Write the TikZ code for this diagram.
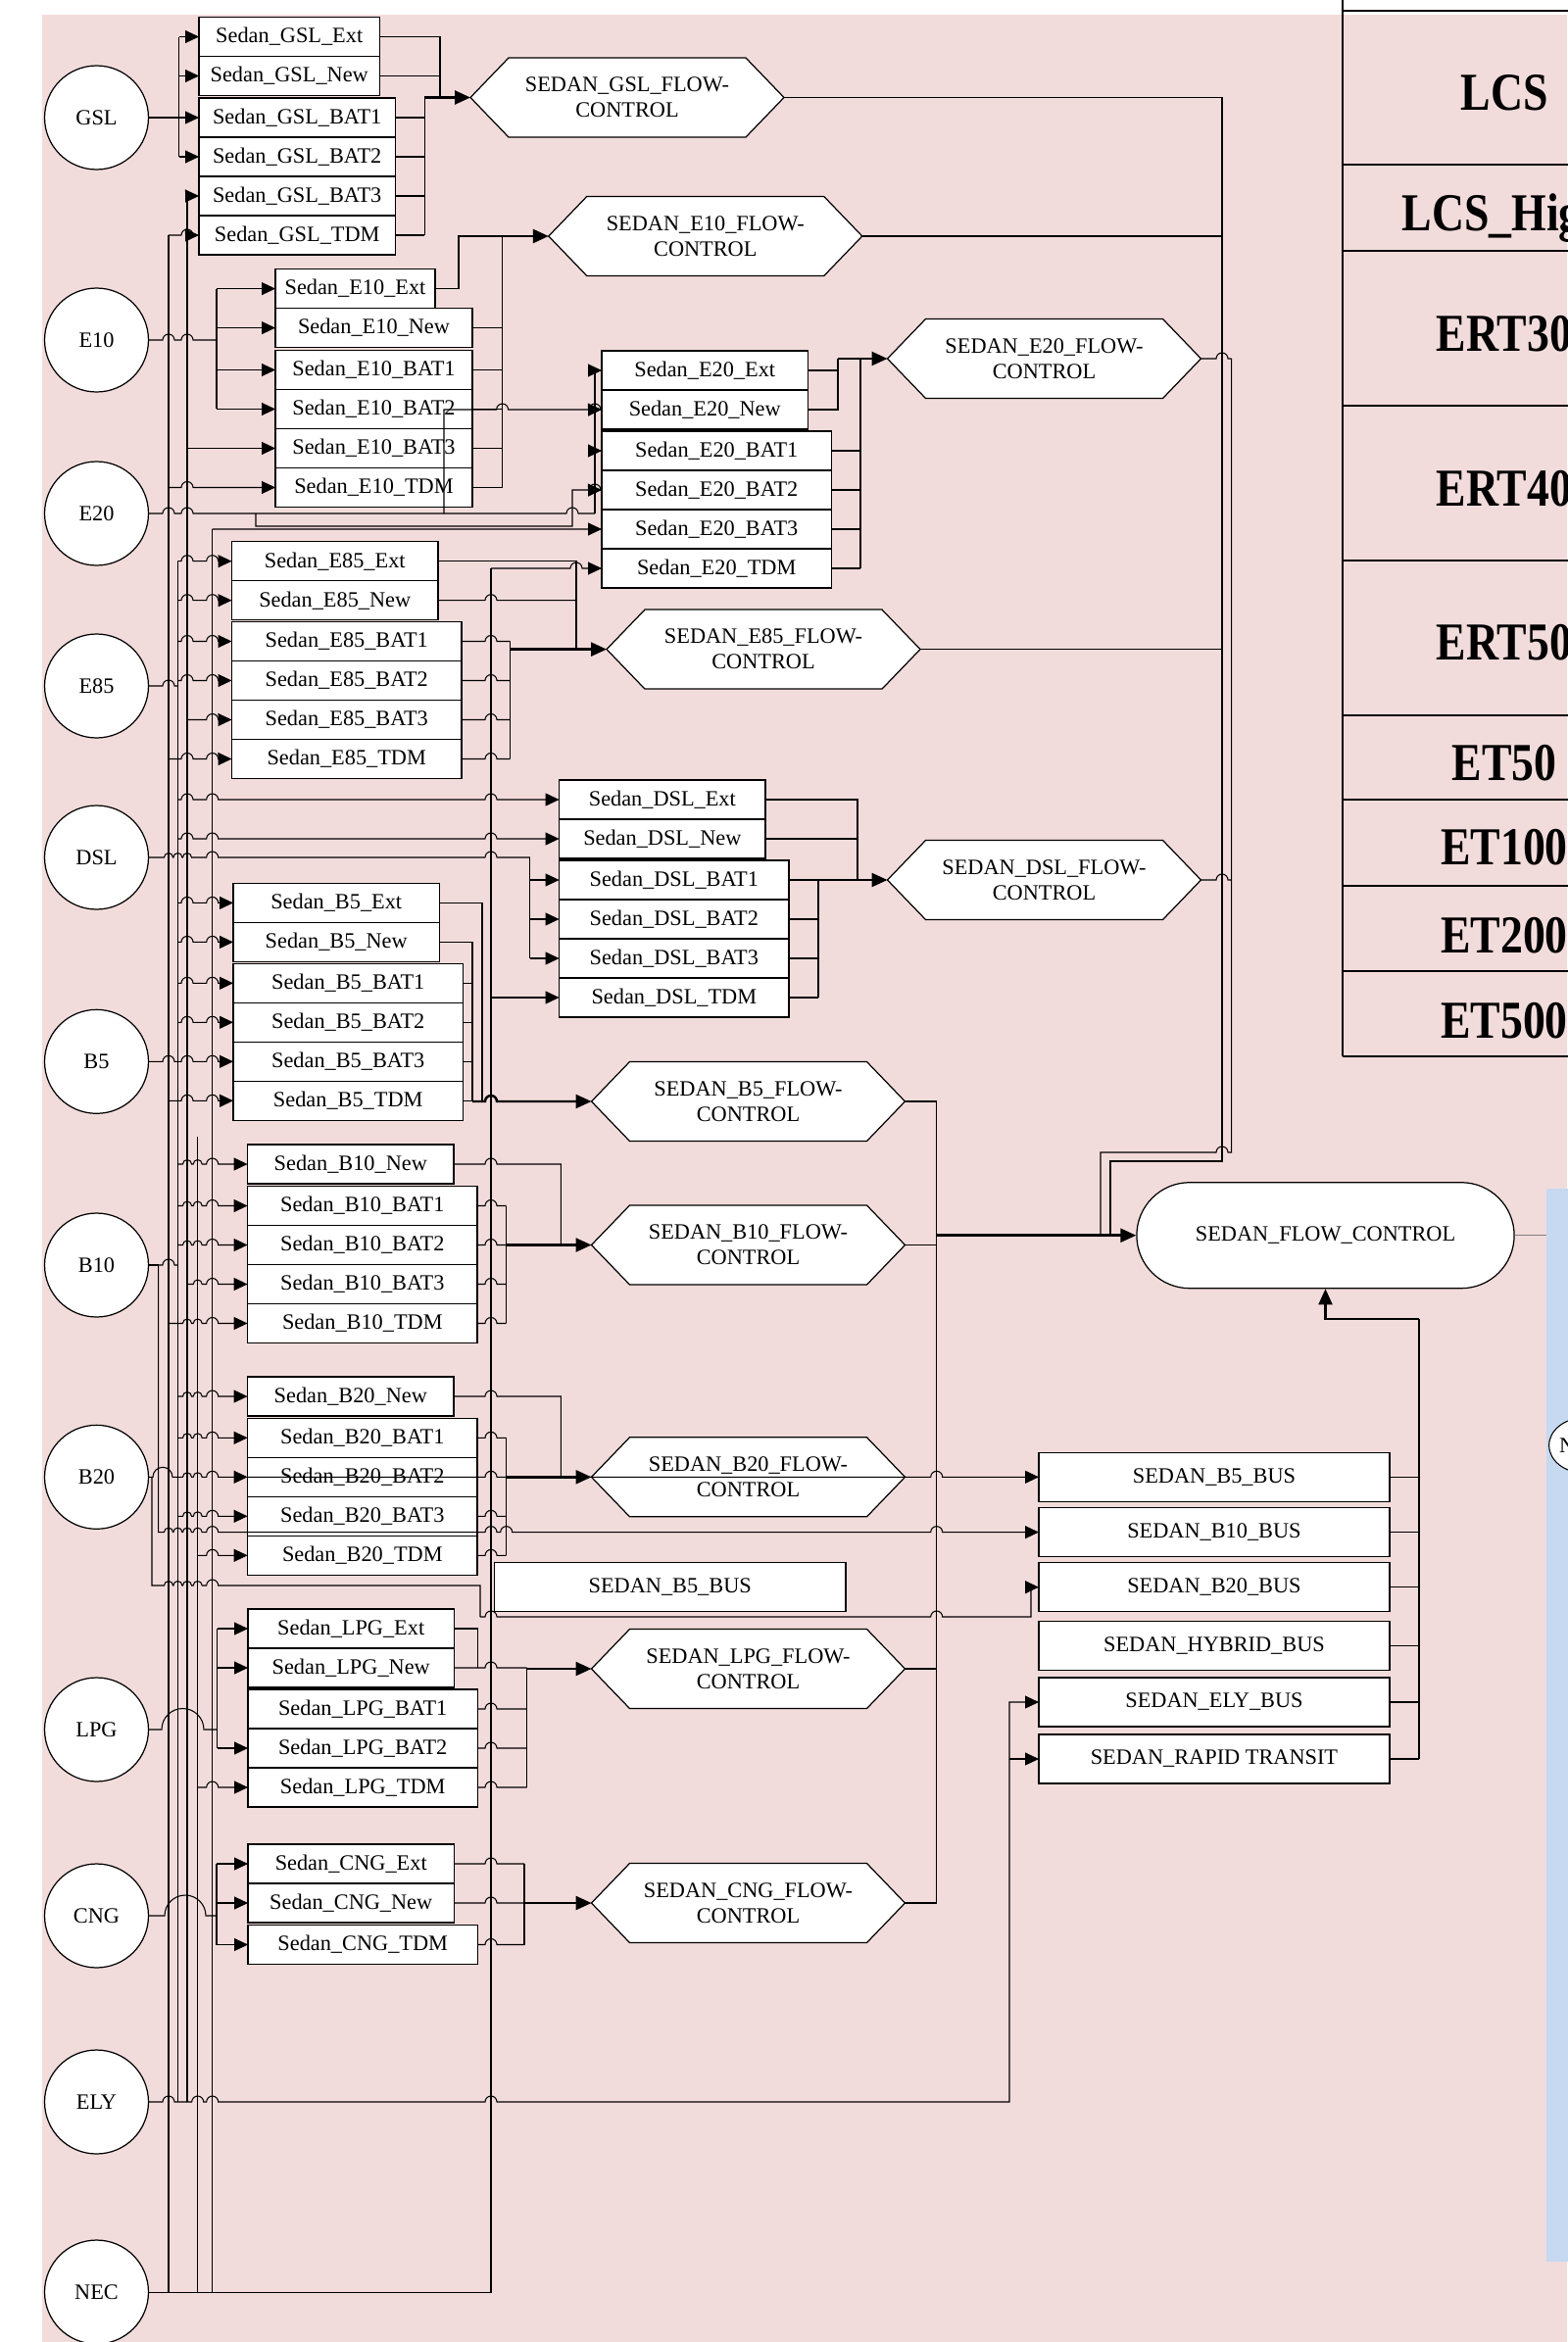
\documentclass[tikz,border=0pt]{standalone}
\usepackage{fontspec}
\setmainfont{Liberation Serif}
\usetikzlibrary{positioning, arrows.meta, shapes.geometric, shapes.misc}
\definecolor{pinkbg}{RGB}{242,220,219}
\definecolor{bluebg}{RGB}{198,217,240}
\tikzset{
  every node/.style={font=\fontsize{12.7}{14.8}\selectfont},
  fuel/.style={circle, draw, fill=white, line width=0.7pt, minimum size=2.12cm, inner sep=0pt},
  box/.style={rectangle, draw, fill=white, line width=0.8pt, minimum height=0.8cm, inner sep=0pt, outer sep=0pt},
  sbox/.style={box, minimum width=4.21cm},
  lbox/.style={box, minimum width=4.69cm},
  hexa/.style={minimum width=6.4cm, minimum height=1.62cm, inner sep=0pt, outer sep=0pt, align=center},
  hexline/.style={fill=white, draw=black, line width=0.7pt},
  bus/.style={box, minimum width=7.16cm, minimum height=1cm},
  tabtxt/.style={anchor=base, inner sep=0pt, font=\fontsize{31}{35}\selectfont\bfseries},
  arr/.style={-{Triangle[length=0.28cm,width=0.26cm]}},
  thickarr/.style={line width=1.4pt, -{Triangle[length=0.32cm,width=0.28cm]}}
}
% horizontal wire with hops: [opts]{y}{start}{x/r list}{end}
\newcommand{\wire}[5][]{%
  \draw[#1] #3 \foreach \hx/\hr in {#4}{ -- ({\hx-\hr},#2) arc[start angle=180,end angle=0,radius=\hr*0.02cm]} -- #5;}
% flow control hexagon: name, x, y, text
\newcommand{\flowhex}[4]{%
  \filldraw[hexline] ({#2-160},#3) -- ({#2-121},{#3-40.5}) -- ({#2+121},{#3-40.5}) -- ({#2+160},#3) -- ({#2+121},{#3+40.5}) -- ({#2-121},{#3+40.5}) -- cycle;
  \node[hexa] (#1) at (#2,#3) {#4};}

\begin{document}
\begin{tikzpicture}[x=0.02cm, y=-0.02cm, line width=0.6pt]
\useasboundingbox (0,0) rectangle (1599,2390);
\fill[pinkbg] (43,14.5) rectangle (1599,2390);

% table on the right
\draw[line width=1.2pt] (1370,0) -- (1370,1078);
\draw[line width=1pt] (1370,11) -- (1640,11) (1370,168) -- (1640,168) (1370,256) -- (1640,256)
  (1370,414) -- (1640,414) (1370,572) -- (1640,572) (1370,730) -- (1640,730) (1370,816) -- (1640,816)
  (1370,904) -- (1640,904) (1370,991) -- (1640,991) (1370,1078) -- (1640,1078);
\node[tabtxt] (lcs) at (1535,112) {\scalebox{0.84}[1]{LCS}};
\node[tabtxt] (lcsHigh) at (1535,235) {\scalebox{0.84}[1]{LCS\_High}};
\node[tabtxt] (ert30) at (1535,358) {\scalebox{0.84}[1]{ERT30}};
\node[tabtxt] (ert40) at (1535,516) {\scalebox{0.84}[1]{ERT40}};
\node[tabtxt] (ert50) at (1535,673) {\scalebox{0.84}[1]{ERT50}};
\node[tabtxt] (et50) at (1535,796) {\scalebox{0.84}[1]{ET50}};
\node[tabtxt] (et100) at (1535,882) {\scalebox{0.84}[1]{ET100}};
\node[tabtxt] (et200) at (1535,972) {\scalebox{0.84}[1]{ET200}};
\node[tabtxt] (et500) at (1535,1059) {\scalebox{0.84}[1]{ET500}};

% blue panel
\fill[bluebg] (1578,1213) rectangle (1640,2308);
\node[ellipse, draw, fill=white, line width=0.6pt, minimum width=1.4cm, minimum height=1.12cm, text width=1cm, align=left, inner sep=0pt] (nx) at (1616,1475) {N};

% fuels
\node[fuel] (gsl) at (98.5,120) {GSL};
\node[fuel] (e10) at (98.5,347) {E10};
\node[fuel] (e20) at (98.5,524) {E20};
\node[fuel] (e85) at (98.5,700) {E85};
\node[fuel] (dsl) at (98.5,875) {DSL};
\node[fuel] (b5) at (98.5,1083.3) {B5};
\node[fuel] (b10) at (98.5,1291) {B10};
\node[fuel] (b20) at (98.5,1507.3) {B20};
\node[fuel] (lpg) at (98.5,1765) {LPG};
\node[fuel] (cng) at (98.5,1955) {CNG};
\node[fuel] (ely) at (98.5,2145) {ELY};
\node[fuel] (nec) at (98.5,2339) {NEC};

% GSL boxes
\node[box, minimum width=3.69cm, anchor=west] (gslExt) at (203,37.5) {Sedan\_GSL\_Ext};
\node[box, minimum width=3.69cm, below=0pt of gslExt.south west, anchor=north west] (gslNew) {Sedan\_GSL\_New};
\node[box, minimum width=4.01cm, anchor=west] (gslB1) at (203,120) {Sedan\_GSL\_BAT1};
\node[box, minimum width=4.01cm, below=0pt of gslB1.south west, anchor=north west] (gslB2) {Sedan\_GSL\_BAT2};
\node[box, minimum width=4.01cm, below=0pt of gslB2.south west, anchor=north west] (gslB3) {Sedan\_GSL\_BAT3};
\node[box, minimum width=4.01cm, below=0pt of gslB3.south west, anchor=north west] (gslTDM) {Sedan\_GSL\_TDM};

% E10 boxes
\node[box, minimum width=3.26cm, anchor=west] (e10Ext) at (281,294.6) {Sedan\_E10\_Ext};
\node[box, minimum width=4.02cm, below=0pt of e10Ext.south west, anchor=north west] (e10New) {Sedan\_E10\_New};
\node[box, minimum width=4.02cm, anchor=west] (e10B1) at (281,377.5) {Sedan\_E10\_BAT1};
\node[box, minimum width=4.02cm, below=0pt of e10B1.south west, anchor=north west] (e10B2) {Sedan\_E10\_BAT2};
\node[box, minimum width=4.02cm, below=0pt of e10B2.south west, anchor=north west] (e10B3) {Sedan\_E10\_BAT3};
\node[box, minimum width=4.02cm, below=0pt of e10B3.south west, anchor=north west] (e10TDM) {Sedan\_E10\_TDM};

% E20 boxes
\node[sbox, anchor=west] (e20Ext) at (614,378) {Sedan\_E20\_Ext};
\node[sbox, below=0pt of e20Ext.south west, anchor=north west] (e20New) {Sedan\_E20\_New};
\node[lbox, anchor=west] (e20B1) at (614,460) {Sedan\_E20\_BAT1};
\node[lbox, below=0pt of e20B1.south west, anchor=north west] (e20B2) {Sedan\_E20\_BAT2};
\node[lbox, below=0pt of e20B2.south west, anchor=north west] (e20B3) {Sedan\_E20\_BAT3};
\node[lbox, below=0pt of e20B3.south west, anchor=north west] (e20TDM) {Sedan\_E20\_TDM};

% E85 boxes
\node[sbox, anchor=west] (e85Ext) at (236.5,572.7) {Sedan\_E85\_Ext};
\node[sbox, below=0pt of e85Ext.south west, anchor=north west] (e85New) {Sedan\_E85\_New};
\node[lbox, anchor=west] (e85B1) at (236.5,654.5) {Sedan\_E85\_BAT1};
\node[lbox, below=0pt of e85B1.south west, anchor=north west] (e85B2) {Sedan\_E85\_BAT2};
\node[lbox, below=0pt of e85B2.south west, anchor=north west] (e85B3) {Sedan\_E85\_BAT3};
\node[lbox, below=0pt of e85B3.south west, anchor=north west] (e85TDM) {Sedan\_E85\_TDM};

% DSL boxes
\node[sbox, anchor=west] (dslExt) at (570.6,816) {Sedan\_DSL\_Ext};
\node[sbox, below=0pt of dslExt.south west, anchor=north west] (dslNew) {Sedan\_DSL\_New};
\node[lbox, anchor=west] (dslB1) at (570.6,898) {Sedan\_DSL\_BAT1};
\node[lbox, below=0pt of dslB1.south west, anchor=north west] (dslB2) {Sedan\_DSL\_BAT2};
\node[lbox, below=0pt of dslB2.south west, anchor=north west] (dslB3) {Sedan\_DSL\_BAT3};
\node[lbox, below=0pt of dslB3.south west, anchor=north west] (dslTDM) {Sedan\_DSL\_TDM};

% B5 boxes
\node[sbox, anchor=west] (b5Ext) at (238,921.4) {Sedan\_B5\_Ext};
\node[sbox, below=0pt of b5Ext.south west, anchor=north west] (b5New) {Sedan\_B5\_New};
\node[lbox, anchor=west] (b5B1) at (238,1003.3) {Sedan\_B5\_BAT1};
\node[lbox, below=0pt of b5B1.south west, anchor=north west] (b5B2) {Sedan\_B5\_BAT2};
\node[lbox, below=0pt of b5B2.south west, anchor=north west] (b5B3) {Sedan\_B5\_BAT3};
\node[lbox, below=0pt of b5B3.south west, anchor=north west] (b5TDM) {Sedan\_B5\_TDM};

% B10 boxes
\node[sbox, anchor=west] (b10New) at (252.6,1188) {Sedan\_B10\_New};
\node[lbox, anchor=west] (b10B1) at (252.6,1230.5) {Sedan\_B10\_BAT1};
\node[lbox, below=0pt of b10B1.south west, anchor=north west] (b10B2) {Sedan\_B10\_BAT2};
\node[lbox, below=0pt of b10B2.south west, anchor=north west] (b10B3) {Sedan\_B10\_BAT3};
\node[lbox, below=0pt of b10B3.south west, anchor=north west] (b10TDM) {Sedan\_B10\_TDM};

% B20 boxes
\node[sbox, anchor=west] (b20New) at (252.6,1425) {Sedan\_B20\_New};
\node[lbox, anchor=west] (b20B1) at (252.6,1467.3) {Sedan\_B20\_BAT1};
\node[lbox, below=0pt of b20B1.south west, anchor=north west] (b20B2) {Sedan\_B20\_BAT2};
\node[lbox, below=0pt of b20B2.south west, anchor=north west] (b20B3) {Sedan\_B20\_BAT3};
\node[lbox, below=0pt of b20B3.south west, anchor=north west] (b20TDM) {Sedan\_B20\_TDM};

% LPG boxes
\node[sbox, anchor=west] (lpgExt) at (253,1662) {Sedan\_LPG\_Ext};
\node[sbox, below=0pt of lpgExt.south west, anchor=north west] (lpgNew) {Sedan\_LPG\_New};
\node[lbox, anchor=west] (lpgB1) at (253,1744) {Sedan\_LPG\_BAT1};
\node[lbox, below=0pt of lpgB1.south west, anchor=north west] (lpgB2) {Sedan\_LPG\_BAT2};
\node[lbox, below=0pt of lpgB2.south west, anchor=north west] (lpgTDM) {Sedan\_LPG\_TDM};

% CNG boxes
\node[sbox, anchor=west] (cngExt) at (253,1902) {Sedan\_CNG\_Ext};
\node[sbox, below=0pt of cngExt.south west, anchor=north west] (cngNew) {Sedan\_CNG\_New};
\node[lbox, anchor=west] (cngTDM) at (253,1984.5) {Sedan\_CNG\_TDM};

% flow controls
\flowhex{gslFC}{640}{99.5}{SEDAN\_GSL\_FLOW-\\CONTROL}
\flowhex{e10FC}{719.8}{241}{SEDAN\_E10\_FLOW-\\CONTROL}
\flowhex{e20FC}{1065.5}{366}{SEDAN\_E20\_FLOW-\\CONTROL}
\flowhex{e85FC}{779}{662.6}{SEDAN\_E85\_FLOW-\\CONTROL}
\flowhex{dslFC}{1065.5}{898}{SEDAN\_DSL\_FLOW-\\CONTROL}
\flowhex{b5FC}{763.5}{1124}{SEDAN\_B5\_FLOW-\\CONTROL}
\flowhex{b10FC}{763.5}{1270.5}{SEDAN\_B10\_FLOW-\\CONTROL}
\flowhex{b20FC}{763.5}{1507.3}{SEDAN\_B20\_FLOW-\\CONTROL}
\flowhex{lpgFC}{763.5}{1703}{SEDAN\_LPG\_FLOW-\\CONTROL}
\flowhex{cngFC}{763.5}{1942}{SEDAN\_CNG\_FLOW-\\CONTROL}

\node[rounded rectangle, draw, fill=white, line width=0.7pt, minimum width=7.94cm, minimum height=2.16cm] (fc) at (1352.5,1260.7) {SEDAN\_FLOW\_CONTROL};

% buses
\node[bus, anchor=west] (busB5) at (1060,1507.3) {SEDAN\_B5\_BUS};
\node[bus, anchor=west] (busB10) at (1060,1563.6) {SEDAN\_B10\_BUS};
\node[bus, anchor=west] (busB20) at (1060,1619.7) {SEDAN\_B20\_BUS};
\node[bus, anchor=west] (busHyb) at (1060,1679.6) {SEDAN\_HYBRID\_BUS};
\node[bus, anchor=west] (busEly) at (1060,1737) {SEDAN\_ELY\_BUS};
\node[bus, anchor=west] (busRT) at (1060,1795) {SEDAN\_RAPID TRANSIT};
\node[bus, minimum width=7.17cm, anchor=west] (midB5) at (504.5,1619.5) {SEDAN\_B5\_BUS};

% trunk and collector points
\coordinate (vN) at (172,240);
\coordinate (vY) at (191,200);
\coordinate (vY2) at (181.4,572.7);
\coordinate (vN2) at (201.7,1160);
\coordinate (vN3) at (216.7,540);
\coordinate (vN4) at (501,580);
\coordinate (vB10) at (161.7,1291);
\coordinate (vB20) at (155,1507.3);
\coordinate (tGSL) at (182.5,37.5);
\coordinate (tE10) at (221,294.6);
\coordinate (tE20) at (607,378);
\coordinate (tDSL) at (540.8,875);
\coordinate (tLPG) at (221.7,1662);
\coordinate (tCNG) at (221,1902);

% long left verticals
\draw (vN) -- (vN |- nec.east);
\draw (vN2) -- (vN2 |- nec.east);
\draw (vN3) -- (vN3 |- nec.east);
\draw (vY) -- (vY |- ely.east);
\draw (vY2) -- (vY2 |- ely.east);
\draw (nec.east) -- (vN4 |- nec.east) -- (vN4);

% GSL in
\draw (gsl.east) -- (tGSL |- gsl.east);
\draw (tGSL) -- (tGSL |- gslB2.west);
\draw[arr] (tGSL) -- (gslExt.west);
\draw[arr] (tGSL |- gslNew.west) -- (gslNew.west);
\draw[arr] (tGSL |- gslB1.west) -- (gslB1.west);
\draw[arr] (tGSL |- gslB2.west) -- (gslB2.west);
\draw[arr] (vY) -- (gslB3.west);
\wire[arr]{240}{(vN)}{191/6}{(gslTDM.west)}

% E10 in
\wire{347}{(e10.east)}{172/6,191/6}{(tE10 |- e10.east)}
\draw (tE10) -- (tE10 |- e10B2.west);
\draw[arr] (tE10) -- (e10Ext.west);
\draw[arr] (tE10 |- e10New.west) -- (e10New.west);
\draw[arr] (tE10 |- e10B1.west) -- (e10B1.west);
\draw[arr] (tE10 |- e10B2.west) -- (e10B2.west);
\draw[arr] (vY |- e10B3.west) -- (e10B3.west);
\wire[arr]{497.5}{(vN |- e10TDM.west)}{191/6}{(e10TDM.west)}

% E20 in
\wire{524}{(e20.east)}{172/6,191/6,584/6}{(tE20 |- e20.east)}
\draw (tE20) -- (tE20 |- e20.east);
\draw[arr] (tE20) -- (e20Ext.west);
\draw[arr] (tE20 |- e20B1.west) -- (e20B1.west);
\wire[arr]{418}{(453,524) -- (453,418)}{512.6/6,607/6}{(e20New.west)}
\wire[arr]{500}{(261,524) -- (261,537) -- (584,537) -- (584,500)}{607/6}{(e20B2.west)}
\draw[arr] (vN3) -- (e20B3.west);
\wire[arr]{580}{(vN4)}{588/6}{(e20TDM.west)}

% E85 in
\wire{700}{(e85.east)}{172/6}{(vY2 |- e85.east)}
\wire[arr]{572.7}{(vY2)}{191/6,216.7/6}{(e85Ext.west)}
\wire[arr]{612.7}{(vY2 |- e85New.west)}{191/6,216.7/6}{(e85New.west)}
\wire[arr]{654.5}{(vY2 |- e85B1.west)}{191/6,216.7/6}{(e85B1.west)}
\wire[arr]{694.5}{(vY2 |- e85B2.west)}{191/6,216.7/6}{(e85B2.west)}
\wire[arr]{734.5}{(vY |- e85B3.west)}{216.7/6}{(e85B3.west)}
\wire[arr]{774.5}{(vN |- e85TDM.west)}{191/6,216.7/6}{(e85TDM.west)}

% DSL in
\wire{875}{(dsl.east)}{172/4.5,181.4/4.5,191/4.5,216.7/6,501/6}{(tDSL)}
\draw (tDSL) -- (tDSL |- dslB3.west);
\draw[arr] (tDSL |- dslB1.west) -- (dslB1.west);
\draw[arr] (tDSL |- dslB2.west) -- (dslB2.west);
\draw[arr] (tDSL |- dslB3.west) -- (dslB3.west);
\wire[arr]{816}{(vY2 |- dslExt.west)}{191/6,216.7/6,501/6}{(dslExt.west)}
\wire[arr]{856}{(vY2 |- dslNew.west)}{191/6,216.7/6,501/6}{(dslNew.west)}
\draw[arr] (vN4 |- dslTDM.west) -- (dslTDM.west);

% B5 in
\wire{1083.3}{(b5.east)}{172/6}{(vY2 |- b5.east)}
\wire[arr]{921.4}{(vY2 |- b5Ext.west)}{191/6,216.7/6}{(b5Ext.west)}
\wire[arr]{961.4}{(vY2 |- b5New.west)}{191/6,216.7/6}{(b5New.west)}
\wire[arr]{1003.3}{(vY2 |- b5B1.west)}{191/6,216.7/6}{(b5B1.west)}
\wire[arr]{1043.3}{(vY2 |- b5B2.west)}{191/6,216.7/6}{(b5B2.west)}
\wire[arr]{1083.3}{(vY2 |- b5B3.west)}{191/6,216.7/6}{(b5B3.west)}
\wire[arr]{1123.3}{(vN |- b5TDM.west)}{191/6,216.7/6}{(b5TDM.west)}

% B10 in
\draw (b10.east) -- (vB10);
\wire{1291}{(vB10)}{172/6}{(vY2 |- b10.east)}
\wire[arr]{1188}{(vY2 |- b10New.west)}{191/4.5,201.7/4.5,216.7/6}{(b10New.west)}
\wire[arr]{1230.5}{(vY2 |- b10B1.west)}{191/4.5,201.7/4.5,216.7/6}{(b10B1.west)}
\wire[arr]{1270.5}{(vY2 |- b10B2.west)}{191/4.5,201.7/4.5,216.7/6}{(b10B2.west)}
\wire[arr]{1310.5}{(vY |- b10B3.west)}{201.7/4.5,216.7/6}{(b10B3.west)}
\wire[arr]{1350.5}{(vN |- b10TDM.west)}{191/4.5,201.7/4.5,216.7/6}{(b10TDM.west)}

% B20 in
\wire[arr]{1507.3}{(b20.east)}{166/10,191/4.5,201.7/4.5,216.7/6}{(b20B2.west)}
\wire[arr]{1425}{(vY2 |- b20New.west)}{191/4.5,201.7/4.5,216.7/6}{(b20New.west)}
\wire[arr]{1467.3}{(vY2 |- b20B1.west)}{191/4.5,201.7/4.5,216.7/6}{(b20B1.west)}
\wire[arr]{1547.3}{(vY2 |- b20B3.west)}{191/4.5,201.7/4.5,216.7/6}{(b20B3.west)}
\wire[arr]{1587.3}{(vN2 |- b20TDM.west)}{216.7/6}{(b20TDM.west)}

% LPG in
\wire{1765}{(lpg.east)}{186.5/21.5}{(tLPG |- lpg.east)}
\draw (tLPG) -- (tLPG |- lpgB2.west);
\draw[arr] (tLPG) -- (lpgExt.west);
\draw[arr] (tLPG |- lpgNew.west) -- (lpgNew.west);
\draw[arr] (tLPG |- lpgB2.west) -- (lpgB2.west);
\wire[arr]{1824}{(vN2 |- lpgTDM.west)}{216.7/6}{(lpgTDM.west)}

% CNG in
\wire{1955}{(cng.east)}{189/21}{(tCNG |- cng.east)}
\draw (tCNG) -- (tCNG |- cngTDM.west);
\draw[arr] (tCNG) -- (cngExt.west);
\draw[arr] (tCNG |- cngNew.west) -- (cngNew.west);
\draw[arr] (tCNG |- cngTDM.west) -- (cngTDM.west);

% ELY
\wire[arr]{2145}{(ely.east)}{172/6,201.7/6,216.7/6,501/6}{(1030,2145) -- (1030,1737) -- (busEly.west)}
\draw[arr] (1030,1795) -- (busRT.west);

% GSL out
\coordinate (gslC1) at (449,99.5);
\coordinate (gslC2) at (433.4,99.5);
\draw (gslExt.east) -| (gslC1);
\draw (gslNew.east) -- (gslNew.east -| gslC1);
\draw (gslC2) -- (gslC2 |- gslTDM.east);
\draw (gslB1.east) -- (gslB1.east -| gslC2);
\draw (gslB2.east) -- (gslB2.east -| gslC2);
\draw (gslB3.east) -- (gslB3.east -| gslC2);
\draw (gslTDM.east) -- (gslTDM.east -| gslC2);
\draw[thickarr] (gslC2) -- (gslFC.west);

% E10 out
\coordinate (e10C) at (512.6,241);
\draw (e10Ext.east) -- ++(24,0) |- (e10C);
\draw (e10C) -- (e10C |- e10TDM.east);
\draw (e10New.east) -- (e10New.east -| e10C);
\draw (e10B1.east) -- (e10B1.east -| e10C);
\draw (e10B2.east) -- (e10B2.east -| e10C);
\draw (e10B3.east) -- (e10B3.east -| e10C);
\draw (e10TDM.east) -- (e10TDM.east -| e10C);
\draw[thickarr] (e10C) -- (e10FC.west);

% E20 out
\coordinate (e20C1) at (855,366);
\coordinate (e20C2) at (878,366);
\draw (e20Ext.east) -| (e20C1);
\draw (e20New.east) -| (e20C1);
\draw (e20C2) -- (e20C2 |- e20TDM.east);
\draw (e20B1.east) -- (e20B1.east -| e20C2);
\draw (e20B2.east) -- (e20B2.east -| e20C2);
\draw (e20B3.east) -- (e20B3.east -| e20C2);
\draw (e20TDM.east) -- (e20TDM.east -| e20C2);
\draw[thickarr] (e20C1) -- (e20FC.west);

% E85 out
\coordinate (e85C1) at (588,662.6);
\coordinate (e85C2) at (520.7,662.6);
\draw (e85Ext.east) -| (e85C1);
\wire{612.7}{(e85New.east)}{501/6}{(e85New.east -| e85C1)}
\wire{654.5}{(e85B1.east)}{501/6}{(e85B1.east -| e85C2)}
\wire{694.5}{(e85B2.east)}{501/6}{(e85B2.east -| e85C2)}
\wire{734.5}{(e85B3.east)}{501/6}{(e85B3.east -| e85C2)}
\wire{774.5}{(e85TDM.east)}{501/6}{(e85TDM.east -| e85C2)}
\draw (e85C2 |- e85B1.east) -- (e85C2 |- e85TDM.east);
\draw[thickarr] (e85C2) -- (e85FC.west);

% DSL out
\coordinate (dslC1) at (875,898);
\coordinate (dslC2) at (835,898);
\draw (dslExt.east) -| (dslC1);
\draw (dslNew.east) -| (dslC1);
\draw (dslC2) -- (dslC2 |- dslTDM.east);
\draw (dslB1.east) -- (dslB1.east -| dslC2);
\draw (dslB2.east) -- (dslB2.east -| dslC2);
\draw (dslB3.east) -- (dslB3.east -| dslC2);
\draw (dslTDM.east) -- (dslTDM.east -| dslC2);
\draw[thickarr] (dslC2) -- (dslFC.west);

% B5 out
\coordinate (b5C1) at (492,1124);
\coordinate (b5C2) at (482,1124);
\draw (b5Ext.east) -| (b5C1);
\draw (b5New.east) -| (b5C2);
\draw (b5B1.east) -- (b5B1.east -| b5C2);
\draw (b5B2.east) -- (b5B2.east -| b5C2);
\draw (b5B3.east) -- (b5B3.east -| b5C2);
\draw (b5TDM.east) -- (b5TDM.east -| b5C2);
\wire[thickarr]{1124}{(b5C2)}{501/6}{(b5FC.west)}

% B10 out
\coordinate (b10C1) at (572.3,1270.5);
\coordinate (b10C2) at (516.7,1270.5);
\wire{1188}{(b10New.east)}{501/6}{(b10New.east -| b10C1) -- (b10C1)}
\wire{1230.5}{(b10B1.east)}{501/6}{(b10B1.east -| b10C2)}
\wire{1270.5}{(b10B2.east)}{501/6}{(b10B2.east -| b10C2)}
\wire{1310.5}{(b10B3.east)}{501/6}{(b10B3.east -| b10C2)}
\wire{1350.5}{(b10TDM.east)}{501/6}{(b10TDM.east -| b10C2)}
\draw (b10C2 |- b10B1.east) -- (b10C2 |- b10TDM.east);
\draw[thickarr] (b10C2) -- (b10FC.west);

% B20 out
\coordinate (b20C1) at (572.3,1507.3);
\coordinate (b20C2) at (516.7,1507.3);
\wire{1425}{(b20New.east)}{501/6}{(b20New.east -| b20C1) -- (b20C1)}
\wire{1467.3}{(b20B1.east)}{501/6}{(b20B1.east -| b20C2)}
\wire{1547.3}{(b20B3.east)}{501/6}{(b20B3.east -| b20C2)}
\wire{1587.3}{(b20TDM.east)}{501/6}{(b20TDM.east -| b20C2)}
\draw (b20C2 |- b20B1.east) -- (b20C2 |- b20TDM.east);
\wire[arr]{1507.3}{(b20B2.west)}{501/6,955.7/6}{(busB5.west)}
\draw[thickarr] (b20C2) -- (b20FC.west);

% LPG out
\coordinate (lpgC) at (537.5,1703);
\draw (lpgExt.east) -- ++(24,0) -- ++(0,40);
\wire{1702}{(lpgNew.east)}{501/6}{(lpgNew.east -| lpgC)}
\wire{1744}{(lpgB1.east)}{501/6}{(lpgB1.east -| lpgC)}
\wire{1784}{(lpgB2.east)}{501/6}{(lpgB2.east -| lpgC)}
\wire{1824}{(lpgTDM.east)}{501/6}{(lpgTDM.east -| lpgC)}
\draw (lpgC |- lpgNew.east) -- (lpgC |- lpgTDM.east);
\draw[thickarr] (lpgC) -- (lpgFC.west);

% CNG out
\coordinate (cngC) at (535,1942);
\wire{1902}{(cngExt.east)}{501/6}{(cngExt.east -| cngC)}
\wire{1942}{(cngNew.east)}{501/6}{(cngC)}
\wire{1984.5}{(cngTDM.east)}{501/6}{(cngTDM.east -| cngC)}
\draw (cngC |- cngExt.east) -- (cngC |- cngTDM.east);
\draw[thickarr] (cngC) -- (cngFC.west);

% buses fed from the left
\wire[arr]{1563.6}{(vB10) -- (161.7,1563.6)}{172/4.5,181.4/4.5,191/4.5,201.7/4.5,216.7/6,501/6,516.7/6,955.7/6}{(busB10.west)}
\wire{1618}{(vB20) -- (155,1618)}{172/4.5,181.4/4.5,191/4.5,201.7/4.5,216.7/6}{(490,1618) -- (490,1650)}
\wire[arr]{1650}{(490,1650)}{501/6,955.7/6}{(1052,1650) -- (1052,1619.7) -- (busB20.west)}

% flow controls into SEDAN_FLOW_CONTROL
\coordinate (rA) at (1247,1185);
\coordinate (rB) at (1256.7,1176);
\draw (gslFC.east) -| (rA) -- (1133,1185) -- (1133,1260.7);
\draw (e10FC.east) -- (e10FC.east -| rA);
\draw (e85FC.east) -- (e85FC.east -| rA);
\wire{366}{(e20FC.east)}{1247/6}{(e20FC.east -| rB)}
\wire{898}{(dslFC.east)}{1247/6}{(dslFC.east -| rB)}
\wire{1176}{(1123,1260.7) -- (1123,1176)}{1247/6}{(rB) -- (rB |- e20FC.east)}
\coordinate (vR) at (955.7,1942);
\draw (b5FC.east) -| (vR) -- (cngFC.east);
\draw (b10FC.east) -- (b10FC.east -| vR);
\draw (lpgFC.east) -- (lpgFC.east -| vR);
\draw[thickarr] (vR |- fc.west) -- (fc.west);

% buses into SEDAN_FLOW_CONTROL
\coordinate (busR) at (1448,1346);
\draw (busB5.east) -| (busR);
\draw (busB10.east) -- (busB10.east -| busR);
\draw (busB20.east) -- (busB20.east -| busR);
\draw (busHyb.east) -- (busHyb.east -| busR);
\draw (busEly.east) -- (busEly.east -| busR);
\draw (busRT.east) -- (busRT.east -| busR);
\draw[line width=1pt] (busR |- busRT.east) -- (busR);
\draw[thickarr, line width=1.2pt] (busR) -| (fc.south);

\draw[gray, line width=0.5pt] (fc.east) -- (1578,1260.7);
\end{tikzpicture}
\end{document}
